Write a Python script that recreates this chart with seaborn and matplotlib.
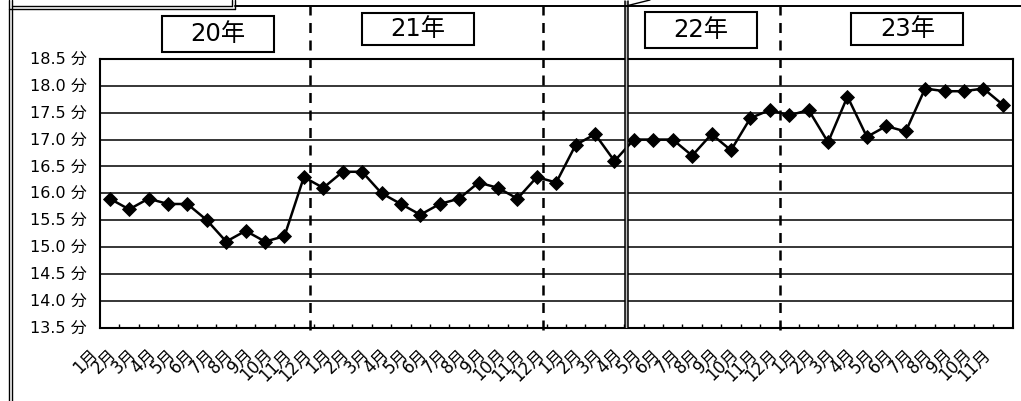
import numpy as np
import pandas as pd
import seaborn as sns
import matplotlib.pyplot as plt
from matplotlib.lines import Line2D
from matplotlib.patches import Rectangle
from matplotlib.transforms import ScaledTranslation, blended_transform_factory

# Monthly average minutes, 2008 (20年) to 2011 (23年)
values_20 = [15.9, 15.7, 15.9, 15.8, 15.8, 15.5, 15.1, 15.3, 15.1, 15.2, 16.3, 16.1]
values_21 = [16.4, 16.4, 16.0, 15.8, 15.6, 15.8, 15.9, 16.2, 16.1, 15.9, 16.3, 16.2]
values_22 = [16.9, 17.1, 16.6, 17.0, 17.0, 17.0, 16.7, 17.1, 16.8, 17.4, 17.55, 17.45]
values_23 = [17.55, 16.95, 17.8, 17.05, 17.25, 17.15, 17.95, 17.9, 17.9, 17.95, 17.65]

months_full = ["1月", "2月", "3月", "4月", "5月", "6月",
               "7月", "8月", "9月", "10月", "11月", "12月"]
months_23 = months_full[:11]
year_labels = ["20年", "21年", "22年", "23年"]

y_ticks = [13.5, 14.0, 14.5, 15.0, 15.5, 16.0, 16.5, 17.0, 17.5, 18.0, 18.5]

values = values_20 + values_21 + values_22 + values_23
month_labels = months_full * 3 + months_23
df = pd.DataFrame({"pos": np.arange(len(values)), "value": values})

# ---- layout ----
W, H = 1021, 401
sns.set_theme(style="white")
plt.rcParams["font.family"] = ["DejaVu Sans", "Noto Sans CJK JP"]

fig = plt.figure(figsize=(W / 100, H / 100), dpi=100)
fig.patch.set_facecolor("white")
ax = fig.add_axes([100 / W, 1 - 327.5 / H, 912.5 / W, 268.5 / H])
ax.set_facecolor("white")

sns.lineplot(data=df, x="pos", y="value", ax=ax, color="black",
             marker="D", markersize=6.8, markeredgecolor="black",
             markeredgewidth=0.6, linewidth=1.8, estimator=None)

n = len(values)
ax.set_xlim(-0.5, n - 0.5)
ax.set_ylim(y_ticks[0], y_ticks[-1])
ax.set_xlabel("")
ax.set_ylabel("")

# horizontal grid
for v in y_ticks[1:-1]:
    ax.axhline(v, color="black", linewidth=1.1, zorder=1)

for s in ax.spines.values():
    s.set_color("black")
    s.set_linewidth(1.5)
    s.set_visible(True)

ax.set_yticks(y_ticks)
ax.set_yticklabels([f"{v:.1f} 分" for v in y_ticks], fontsize=11.5)
ax.tick_params(axis="y", length=0, pad=9.5, colors="black")

ax.set_xticks(np.arange(n))
ax.set_xticklabels(month_labels, fontsize=12, rotation=45,
                   ha="right", va="center", rotation_mode="anchor")
ax.set_xticks(np.arange(n - 1) + 0.5, minor=True)
ax.tick_params(axis="x", which="major", length=0, pad=0, colors="black")
ax.tick_params(axis="x", which="minor", direction="in", length=3,
               width=1, color="black", bottom=True)
shift = ScaledTranslation(-15 / 100, -24 / 100, fig.dpi_scale_trans)
for lab in ax.get_xticklabels():
    lab.set_transform(lab.get_transform() + shift)

# year separators (x in data, y in axes fraction)
bt = blended_transform_factory(ax.transData, ax.transAxes)
top_frac = (327.5 - 6) / 268.5
for xs in [10.3, 22.3, 34.5]:
    ax.add_line(Line2D([xs, xs], [-0.01, top_frac], transform=bt,
                       color="black", linewidth=1.8, linestyle=(0, (4, 3)),
                       clip_on=False, zorder=3))

# double line where the two sheets join
dl0, dl1 = 26.55, 26.72
ax.add_patch(Rectangle((dl0, 0), dl1 - dl0, (327.5 - 1) / 268.5, transform=bt,
                       facecolor="#bdbdbd", edgecolor="none", clip_on=False, zorder=3))
for xs in (dl0, dl1):
    ax.add_line(Line2D([xs, xs], [0, (327.5 - 1) / 268.5], transform=bt,
                       color="black", linewidth=1.1, clip_on=False, zorder=4))

# year boxes
box_centers = [5.58, 15.88, 30.46, 41.08]
box_tops = [16, 13, 12, 13]
box_bottoms = [52, 45, 48, 45]
box_w = 112 / 19.41
for label, xc, t, b in zip(year_labels, box_centers, box_tops, box_bottoms):
    y0 = (327.5 - b) / 268.5
    y1 = (327.5 - t) / 268.5
    ax.add_patch(Rectangle((xc - box_w / 2, y0), box_w, y1 - y0, transform=bt,
                           facecolor="white", edgecolor="black", linewidth=1.5,
                           clip_on=False, zorder=5))
    ax.text(xc, (y0 + y1) / 2, label, transform=bt, ha="center", va="center",
            fontsize=17.5, color="black", zorder=6, clip_on=False)

# page frame lines
def fx(px):
    return px / W

def fy(py):
    return 1 - py / H

frame = [
    ([9, 9], [0, 401], 1.0),
    ([12, 12], [0, 401], 1.0),
    ([9, 235], [9, 9], 1.0),
    ([12, 232], [6, 6], 1.0),
    ([232, 232], [0, 6], 1.0),
    ([235, 235], [0, 9], 1.0),
    ([235, 1021], [6, 6], 1.4),
    ([626, 650], [6, 0], 1.0),
]
for xs, ys, lw in frame:
    fig.add_artist(Line2D([fx(x) for x in xs], [fy(y) for y in ys],
                          transform=fig.transFigure, color="black", linewidth=lw))

fig.savefig("out.png", dpi=100, facecolor="white")
